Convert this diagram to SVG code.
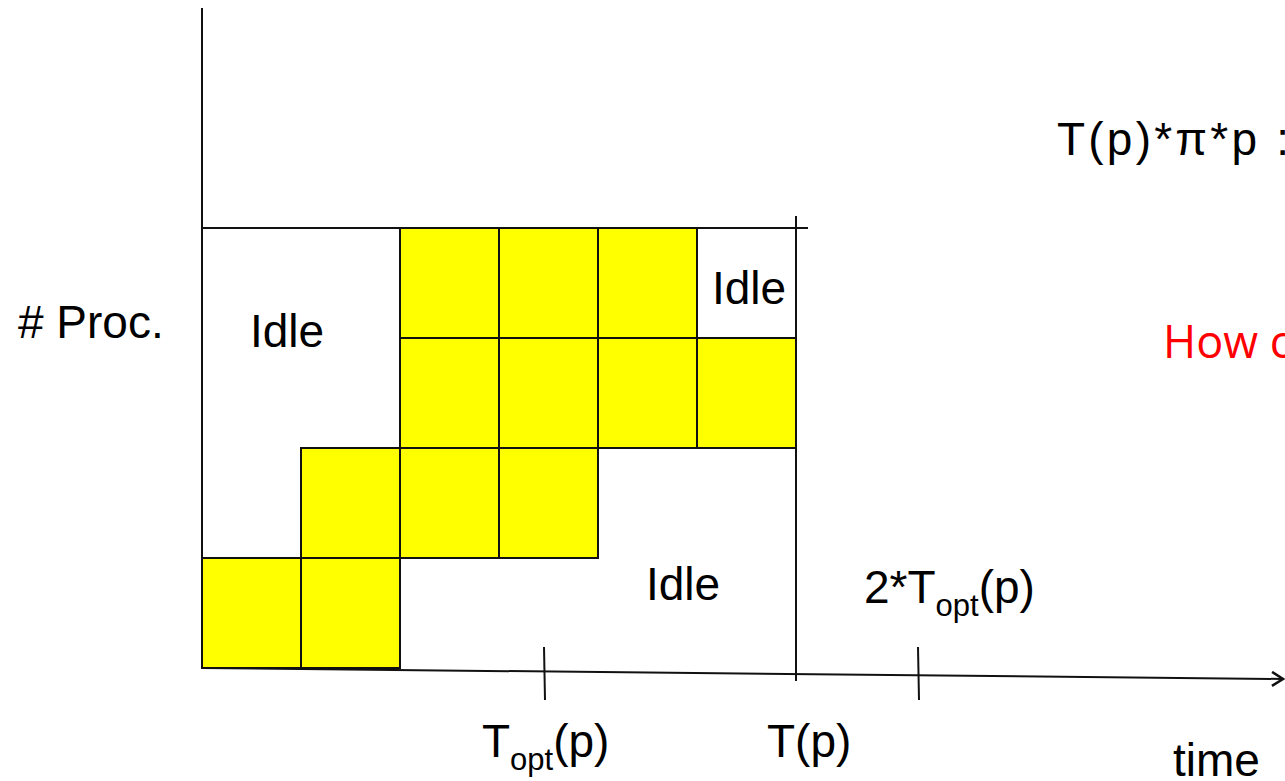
<svg xmlns="http://www.w3.org/2000/svg" width="1285" height="781" viewBox="0 0 1285 781">
<style>
.cell{fill:#ffff00;stroke:#111;stroke-width:2}
.ln{stroke:#111;stroke-width:2;fill:none}
.t{font-family:"Liberation Sans",Arial,sans-serif;font-size:46px;fill:#000}
.sub{font-size:31px}
</style>
<defs>
<marker id="arr" markerWidth="14" markerHeight="16" refX="12" refY="8" orient="auto" markerUnits="userSpaceOnUse">
<path d="M1,1 L12,8 L1,15" fill="none" stroke="#111" stroke-width="2.5"/>
</marker>
</defs>
<g id="cells">
<rect class="cell" x="400" y="228" width="99" height="110"/>
<rect class="cell" x="499" y="228" width="99" height="110"/>
<rect class="cell" x="598" y="228" width="99" height="110"/>
<rect class="cell" x="400" y="338" width="99" height="110"/>
<rect class="cell" x="499" y="338" width="99" height="110"/>
<rect class="cell" x="598" y="338" width="99" height="110"/>
<rect class="cell" x="697" y="338" width="99" height="110"/>
<rect class="cell" x="301" y="448" width="99" height="110"/>
<rect class="cell" x="400" y="448" width="99" height="110"/>
<rect class="cell" x="499" y="448" width="99" height="110"/>
<rect class="cell" x="202" y="558" width="99" height="110"/>
<rect class="cell" x="301" y="558" width="99" height="110"/>
</g>
<g id="connectors">
<line class="ln" x1="202" y1="8" x2="202" y2="668"/>
<line class="ln" x1="202" y1="228" x2="808" y2="228"/>
<line class="ln" x1="796" y1="216" x2="796" y2="681"/>
<line class="ln" x1="202" y1="668" x2="1283" y2="679" marker-end="url(#arr)"/>
<line class="ln" x1="544" y1="647" x2="545" y2="700"/>
<line class="ln" x1="918" y1="647" x2="919" y2="700"/>
</g>
<g id="labels">
<text class="t" x="18" y="338">#  Proc.</text>
<text class="t" x="250" y="347">Idle</text>
<text class="t" x="712" y="304">Idle</text>
<text class="t" x="646" y="600">Idle</text>
<text class="t" x="864" y="603">2*T<tspan class="sub" dy="13">opt</tspan><tspan dy="-13">(p)</tspan></text>
<text class="t" x="482" y="757">T<tspan class="sub" dy="13">opt</tspan><tspan dy="-13">(p)</tspan></text>
<text class="t" x="767" y="757">T(p)</text>
<text class="t" x="1173" y="776">time</text>
<text class="t" x="1057" y="155" textLength="232" lengthAdjust="spacing">T(p)*π*p :</text>
<text class="t" x="1163" y="358" style="fill:#ff0000;font-family:'Open Sans','Liberation Sans',sans-serif;font-size:45px">How c</text>
</g>
</svg>
